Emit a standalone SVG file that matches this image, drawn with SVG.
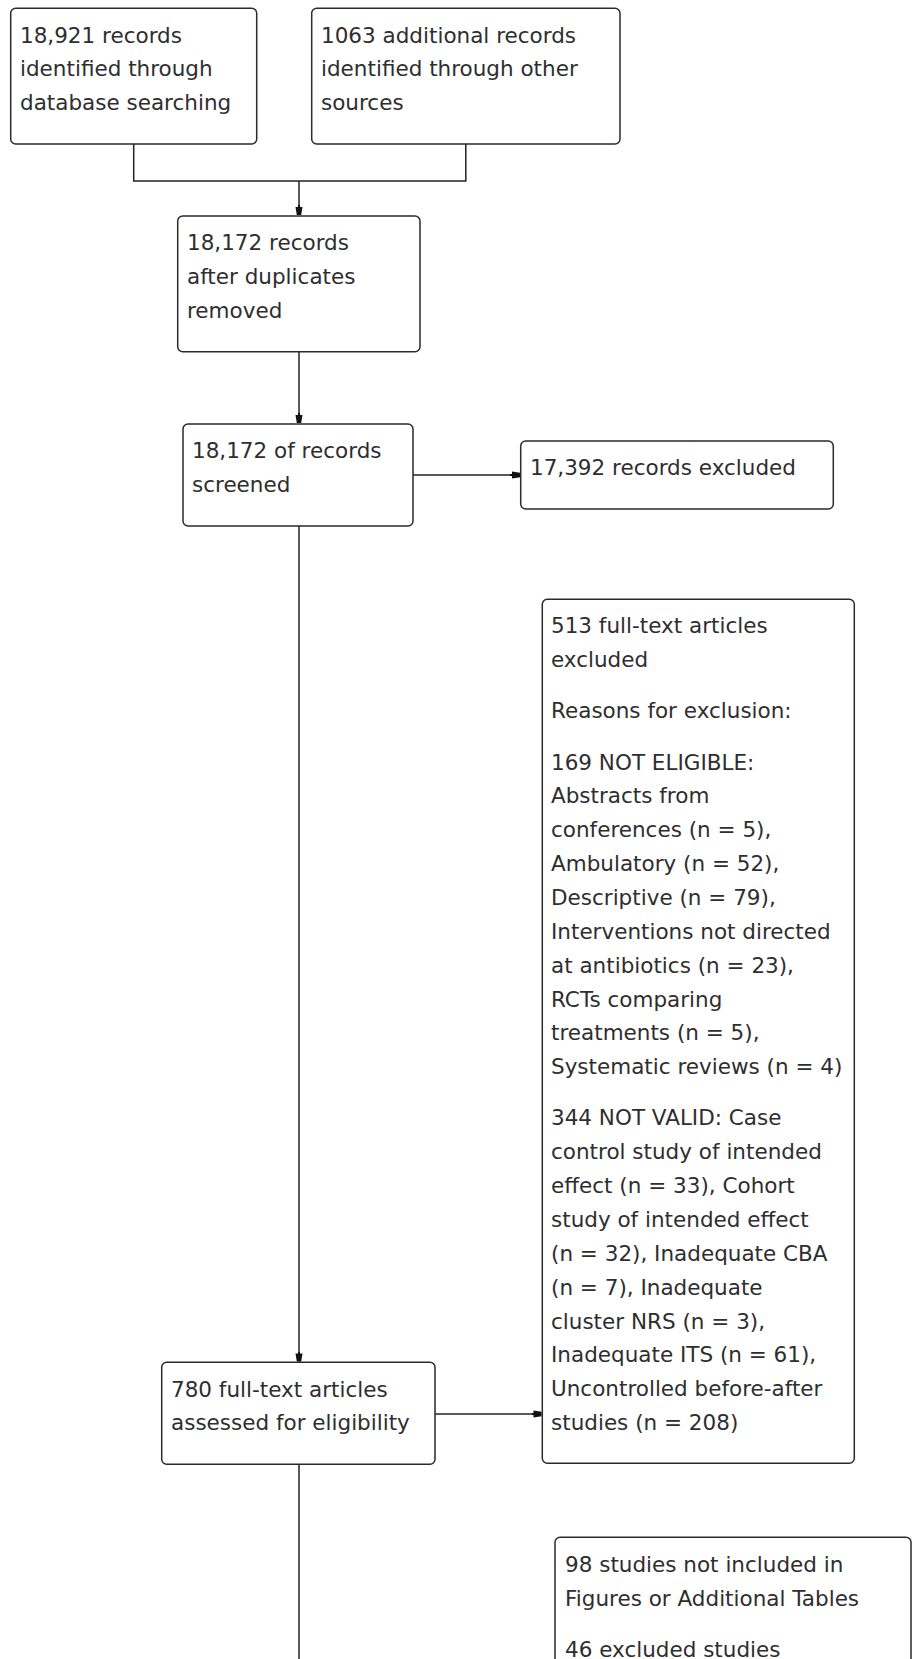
<svg xmlns="http://www.w3.org/2000/svg" width="913" height="1659" viewBox="0 0 913 1659">
<style>
  .box { fill: #ffffff; stroke: #2a2a2a; stroke-width: 1.5; }
  .t { font-family: "DejaVu Sans", Verdana, sans-serif; font-size: 21.5px; fill: #2e2e2e; }
  .edge { fill: none; stroke: #222222; stroke-width: 1.5; }
</style>
<defs>
  <marker id="arr" viewBox="0 0 10 8" refX="10" refY="4" markerWidth="10" markerHeight="8" markerUnits="userSpaceOnUse" orient="auto">
    <path d="M0,3 L2,3 L2,0.5 L10,1.8 L10,6.2 L2,7.5 L2,5 L0,5 Z" fill="#111111"/>
  </marker>
</defs>
<rect width="913" height="1659" fill="#ffffff"/>

<g id="connectors">
  <path class="edge" d="M133.7,144 V181 H465.8 V144"/>
  <path class="edge" d="M299,181 V215" marker-end="url(#arr)"/>
  <path class="edge" d="M299,351.7 V423" marker-end="url(#arr)"/>
  <path class="edge" d="M413,475 H520" marker-end="url(#arr)"/>
  <path class="edge" d="M299,526 V1361.5" marker-end="url(#arr)"/>
  <path class="edge" d="M435,1414 H541.5" marker-end="url(#arr)"/>
  <path class="edge" d="M299,1464.3 V1659"/>
</g>

<g id="n1">
  <rect class="box" x="10.7" y="8.3" width="246" height="135.7" rx="5"/>
  <text class="t" x="20" y="42.5">18,921 records</text>
  <text class="t" x="20" y="76.3">identified through</text>
  <text class="t" x="20" y="110.2">database searching</text>
</g>

<g id="n2">
  <rect class="box" x="311.7" y="8.3" width="308.3" height="135.7" rx="5"/>
  <text class="t" x="321" y="42.5">1063 additional records</text>
  <text class="t" x="321" y="76.3">identified through other</text>
  <text class="t" x="321" y="110.2">sources</text>
</g>

<g id="n3">
  <rect class="box" x="177.7" y="216" width="242.3" height="135.7" rx="5"/>
  <text class="t" x="187" y="250">18,172 records</text>
  <text class="t" x="187" y="284">after duplicates</text>
  <text class="t" x="187" y="318">removed</text>
</g>

<g id="n4">
  <rect class="box" x="183" y="424" width="230" height="102" rx="5"/>
  <text class="t" x="192" y="458">18,172 of records</text>
  <text class="t" x="192" y="492">screened</text>
</g>

<g id="n5">
  <rect class="box" x="520.7" y="441" width="312.6" height="68" rx="5"/>
  <text class="t" x="530" y="475">17,392 records excluded</text>
</g>

<g id="n6">
  <rect class="box" x="542.3" y="599.3" width="312" height="864" rx="5"/>
  <text class="t" x="551" y="633.3">513 full-text articles</text>
  <text class="t" x="551" y="667.2">excluded</text>
  <text class="t" x="551" y="718.4">Reasons for exclusion:</text>
  <text class="t" x="551" y="769.6">169 NOT ELIGIBLE:</text>
  <text class="t" x="551" y="803.4">Abstracts from</text>
  <text class="t" x="551" y="837.3">conferences (n = 5),</text>
  <text class="t" x="551" y="871.1">Ambulatory (n = 52),</text>
  <text class="t" x="551" y="905">Descriptive (n = 79),</text>
  <text class="t" x="551" y="938.8">Interventions not directed</text>
  <text class="t" x="551" y="972.7">at antibiotics (n = 23),</text>
  <text class="t" x="551" y="1006.5">RCTs comparing</text>
  <text class="t" x="551" y="1040.4">treatments (n = 5),</text>
  <text class="t" x="551" y="1074.2">Systematic reviews (n = 4)</text>
  <text class="t" x="551" y="1125.4">344 NOT VALID: Case</text>
  <text class="t" x="551" y="1159.3">control study of intended</text>
  <text class="t" x="551" y="1193.1">effect (n = 33), Cohort</text>
  <text class="t" x="551" y="1227">study of intended effect</text>
  <text class="t" x="551" y="1260.8">(n = 32), Inadequate CBA</text>
  <text class="t" x="551" y="1294.7">(n = 7), Inadequate</text>
  <text class="t" x="551" y="1328.5">cluster NRS (n = 3),</text>
  <text class="t" x="551" y="1362.4">Inadequate ITS (n = 61),</text>
  <text class="t" x="551" y="1396.2">Uncontrolled before-after</text>
  <text class="t" x="551" y="1430.1">studies (n = 208)</text>
</g>

<g id="n7">
  <rect class="box" x="161.7" y="1362.3" width="273.3" height="102" rx="5"/>
  <text class="t" x="171" y="1396.5">780 full-text articles</text>
  <text class="t" x="171" y="1430.3">assessed for eligibility</text>
</g>

<g id="n8">
  <rect class="box" x="555" y="1537.3" width="356" height="200" rx="5"/>
  <text class="t" x="565" y="1571.7">98 studies not included in</text>
  <text class="t" x="565" y="1606">Figures or Additional Tables</text>
  <text class="t" x="565" y="1657">46 excluded studies</text>
</g>
</svg>
